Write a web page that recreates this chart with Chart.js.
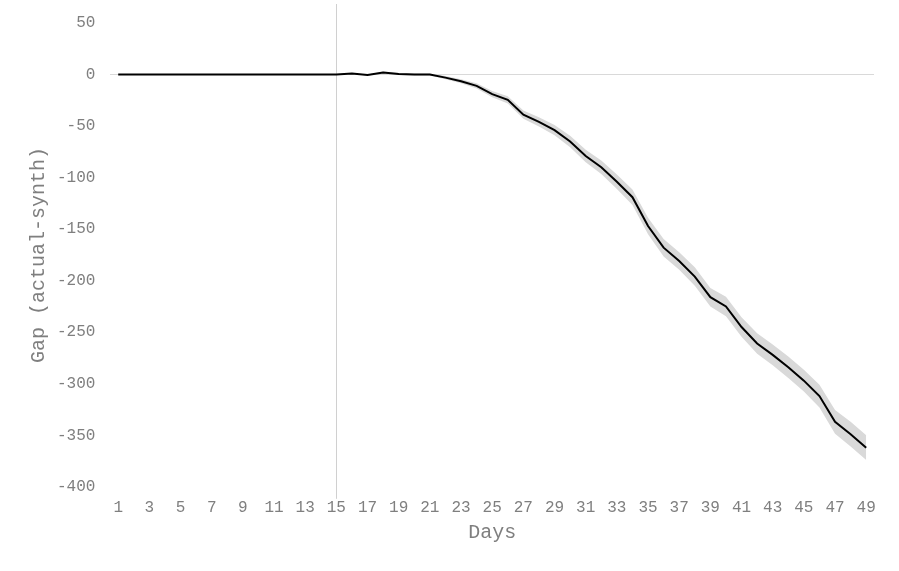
<!DOCTYPE html>
<html>
<head>
<meta charset="utf-8">
<script src="https://cdn.jsdelivr.net/npm/chart.js@4"></script>
<style>
html,body{margin:0;padding:0;background:#fff;}
#wrap{width:899px;height:571px;}
</style>
</head>
<body>
<div id="wrap"><canvas id="c" width="899" height="571"></canvas></div>
<script>
const days = Array.from({length:49},(_,i)=>String(i+1));
const gap = [0,0,0,0,0,0,0,0,0,0,0,0,0,0,0,
  1,-0.5,2,0.5,0,0,-3,-6.5,-11,-19,-24.5,-39,-46,-54,-65,-79,-90,-104,-119,
  -147,-168,-181,-196,-216,-225,-245,-261,-272,-284,-297,-312,-337,-349,-362];
const upper = [0,0,0,0,0,0,0,0,0,0,0,0,0,0,0,
  1.5,0,3,1.5,1,1,-1.5,-4.5,-8.5,-16,-21,-35,-41.5,-49,-59.5,-73,-83.5,-97,-111.5,
  -139,-159.5,-172.5,-187,-207,-215.5,-235.5,-251,-262,-273.5,-286.5,-301,-325.5,-337,-350];
const lower = [0,0,0,0,0,0,0,0,0,0,0,0,0,0,0,
  0.5,-1,1,-0.5,-1,-1,-4.5,-8.5,-13.5,-22,-28,-43,-50.5,-59,-70.5,-85,-96.5,-111,-126.5,
  -155,-176.5,-189.5,-205,-225,-234.5,-254.5,-271,-282,-294.5,-307.5,-323,-348.5,-361,-374];
const treatmentDay = '15';

const FONT = "'Liberation Mono','Courier New',monospace";
const TXT = '#7f7f7f';

const vline = {
  id:'vline',
  beforeDatasetsDraw(chart){
    const {ctx, chartArea, scales} = chart;
    const x = Math.round(scales.x.getPixelForValue(days.indexOf(treatmentDay))) + 0.5;
    ctx.save();
    ctx.strokeStyle = '#d0d0d0';
    ctx.lineWidth = 1;
    ctx.beginPath();
    ctx.moveTo(x, chartArea.top - 19);
    ctx.lineTo(x, chartArea.bottom + 12);
    ctx.stroke();
    ctx.restore();
  }
};

new Chart(document.getElementById('c'), {
  type:'line',
  data:{
    labels: days,
    datasets:[
      {label:'upper', data: upper, borderWidth:0, pointRadius:0, fill:false, backgroundColor:'#d9d9d9', borderColor:'rgba(0,0,0,0)', order:2},
      {label:'lower', data: lower, borderWidth:0, pointRadius:0, fill:'-1', backgroundColor:'#d9d9d9', borderColor:'rgba(0,0,0,0)', order:2},
      {label:'Gap', data: gap, borderColor:'#000', borderWidth:2, pointRadius:0, fill:false, tension:0, order:1}
    ]
  },
  options:{
    responsive:false,
    animation:false,
    layout:{padding:{left:23, right:25, top:22, bottom:22}},
    plugins:{legend:{display:false}, tooltip:{enabled:false}},
    scales:{
      x:{
        type:'category',
        offset:true,
        grid:{display:false, drawTicks:false},
        border:{display:false},
        ticks:{
          autoSkip:false, maxRotation:0, minRotation:0, padding:11,
          color:TXT, font:{family:FONT, size:16},
          callback:function(v,i){ return i%2===0 ? days[i] : ''; }
        },
        title:{display:true, text:'Days', color:TXT, font:{family:FONT, size:20}, padding:{top:-7, bottom:4}}
      },
      y:{
        min:-400, max:50,
        grid:{
          drawTicks:false,
          color:(c)=> c.tick && c.tick.value===0 ? '#d9d9d9' : 'rgba(0,0,0,0)',
          lineWidth:1
        },
        border:{display:false},
        ticks:{stepSize:50, padding:15, color:TXT, font:{family:FONT, size:16, lineHeight:1}},
        title:{display:true, text:'Gap (actual-synth)', color:TXT, font:{family:FONT, size:20}, padding:{top:4, bottom:-9}}
      }
    }
  },
  plugins:[vline]
});
</script>
</body>
</html>
